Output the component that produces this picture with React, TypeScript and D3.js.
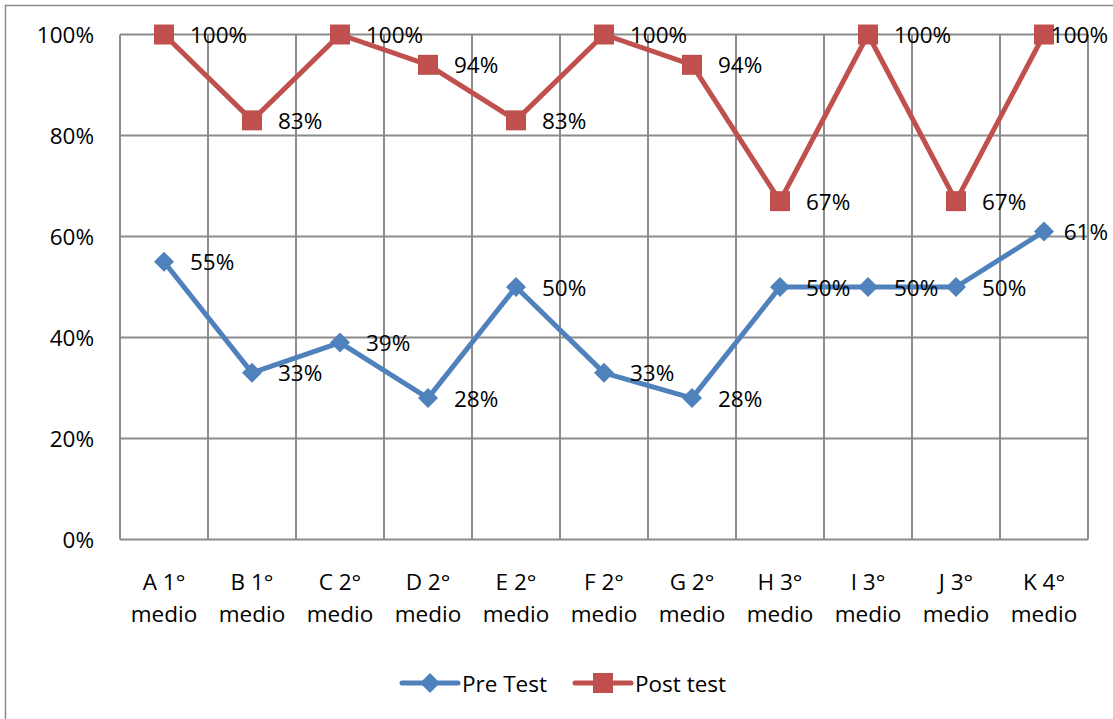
import React, { useEffect, useRef } from "react";
import * as d3 from "d3";

const categories = ["A 1° medio", "B 1° medio", "C 2° medio", "D 2° medio", "E 2° medio", "F 2° medio", "G 2° medio", "H 3° medio", "I 3° medio", "J 3° medio", "K 4° medio"];
const preTest = [55, 33, 39, 28, 50, 33, 28, 50, 50, 50, 61];
const postTest = [100, 83, 100, 94, 83, 100, 94, 67, 100, 67, 100];
const yTicks = [0, 20, 40, 60, 80, 100];
const seriesNames = ["Pre Test", "Post test"];

const W = 1113;
const H = 719;
const FONT = "'Open Sans', sans-serif";
const FS = 22.5;
const BLUE = "#4F81BD";
const RED = "#C0504D";
const GRID = "#8c8c8c";

export default function App() {
  const ref = useRef<SVGSVGElement>(null);

  useEffect(() => {
    const svg = d3.select(ref.current);
    svg.selectAll("*").remove();

    const left = 120, right = 1088, top = 34.5, bottom = 539.5;
    const x = d3.scaleBand<string>().domain(categories).range([left, right]);
    const y = d3.scaleLinear().domain([0, 100]).range([bottom, top]);
    const cx = (c: string) => (x(c) as number) + x.bandwidth() / 2;

    // outer border
    svg.append("rect").attr("x", 5.5).attr("y", 5.5).attr("width", W).attr("height", H)
      .attr("fill", "white").attr("stroke", GRID).attr("stroke-width", 1.5);

    // horizontal grid
    svg.append("g").selectAll("line").data(yTicks).join("line")
      .attr("x1", left).attr("x2", right)
      .attr("y1", (d) => y(d)).attr("y2", (d) => y(d))
      .attr("stroke", GRID).attr("stroke-width", 2);

    // vertical grid
    const vx = categories.map((c) => x(c) as number).concat([right]);
    svg.append("g").selectAll("line").data(vx).join("line")
      .attr("x1", (d) => d).attr("x2", (d) => d)
      .attr("y1", top).attr("y2", bottom)
      .attr("stroke", GRID).attr("stroke-width", 2);

    // y labels
    svg.append("g").selectAll("text").data(yTicks).join("text")
      .attr("x", 94).attr("y", (d) => y(d))
      .attr("text-anchor", "end").attr("dominant-baseline", "central")
      .attr("font-family", FONT).attr("font-size", FS).attr("fill", "#000")
      .text((d) => d + "%");

    // x labels
    const xl = svg.append("g").selectAll("text").data(categories).join("text")
      .attr("text-anchor", "middle")
      .attr("font-family", FONT).attr("font-size", FS).attr("fill", "#000");
    xl.each(function (c) {
      const parts = c.split(" ");
      const t = d3.select(this);
      t.append("tspan").attr("x", cx(c)).attr("y", 590).text(parts[0] + " " + parts[1]);
      t.append("tspan").attr("x", cx(c)).attr("y", 622).text(parts.slice(2).join(" "));
    });

    const line = d3.line<number>().x((_, i) => cx(categories[i])).y((d) => y(d));
    const series = [
      { data: preTest, color: BLUE, rot: 45 },
      { data: postTest, color: RED, rot: 0 },
    ];
    const markerSize = (rot: number) => (rot ? 200 : 400);

    series.forEach((s) => {
      svg.append("path").datum(s.data).attr("d", line)
        .attr("fill", "none").attr("stroke", s.color).attr("stroke-width", 5)
        .attr("stroke-linejoin", "round");
      svg.append("g").selectAll("path").data(s.data).join("path")
        .attr("transform", (d, i) => `translate(${cx(categories[i])},${y(d)}) rotate(${s.rot})`)
        .attr("d", d3.symbol().type(d3.symbolSquare).size(markerSize(s.rot))() as string)
        .attr("fill", s.color);
    });

    // data labels
    series.forEach((s) => {
      s.data.forEach((d, i) => {
        const px = cx(categories[i]);
        const t = svg.append("text")
          .attr("x", px + 26).attr("y", y(d))
          .attr("dominant-baseline", "central")
          .attr("font-family", FONT).attr("font-size", FS).attr("fill", "#000")
          .text(d + "%");
        const w = (t.node() as SVGTextElement).getComputedTextLength();
        if (px + 26 + w > 1108) t.attr("x", 1108 - w);
      });
    });

    // legend
    const legend = [
      { name: seriesNames[0], color: BLUE, x0: 402, rot: 45 },
      { name: seriesNames[1], color: RED, x0: 575, rot: 0 },
    ];
    const ly = 683;
    legend.forEach((l) => {
      svg.append("line").attr("x1", l.x0).attr("x2", l.x0 + 56).attr("y1", ly).attr("y2", ly)
        .attr("stroke", l.color).attr("stroke-width", 5).attr("stroke-linecap", "round");
      svg.append("path")
        .attr("transform", `translate(${l.x0 + 28},${ly}) rotate(${l.rot})`)
        .attr("d", d3.symbol().type(d3.symbolSquare).size(markerSize(l.rot))() as string)
        .attr("fill", l.color);
      svg.append("text").attr("x", l.x0 + 60).attr("y", ly)
        .attr("dominant-baseline", "central")
        .attr("font-family", FONT).attr("font-size", FS).attr("fill", "#000")
        .text(l.name);
    });
  }, []);

  return (
    <svg ref={ref} width={W} height={H} style={{ position: "absolute", left: 0, top: 0, background: "white" }} />
  );
}
